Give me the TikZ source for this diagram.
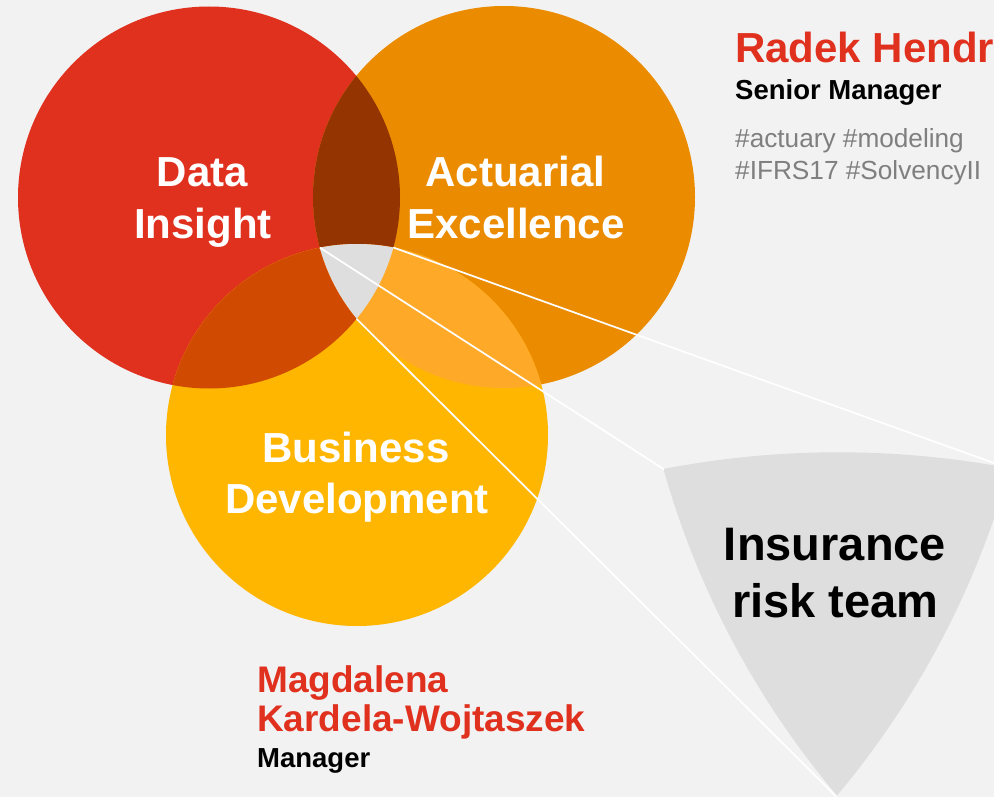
\documentclass[tikz,border=0pt]{standalone}
\usepackage{fontspec}
\setmainfont{Liberation Sans}
\definecolor{bgc}{HTML}{F2F2F2}
\definecolor{cred}{HTML}{E0301E}
\definecolor{corange}{HTML}{EB8C00}
\definecolor{cyellow}{HTML}{FFB600}
\definecolor{cRO}{HTML}{933401}
\definecolor{cRY}{HTML}{D04A02}
\definecolor{cOY}{HTML}{FFA929}
\definecolor{cgray}{HTML}{DEDEDE}
\definecolor{ctag}{HTML}{7F7F7F}
\def\circR{(209,197.5) circle[radius=191]}
\def\circO{(504,197) circle[radius=191]}
\def\circY{(357,435) circle[radius=191]}
\tikzset{
  lbl/.style={text=white, font=\fontsize{42}{50}\selectfont\bfseries, anchor=base, inner sep=0pt},
  pname/.style={text=cred, font=\fontsize{#1}{#1}\selectfont\bfseries, anchor=base west, inner sep=0pt},
  prole/.style={text=black, font=\fontsize{27.5}{30}\selectfont\bfseries, anchor=base west, inner sep=0pt},
  ptag/.style={text=ctag, font=\fontsize{26.2}{30}\selectfont, anchor=base west, inner sep=0pt},
  teamlbl/.style={text=black, font=\fontsize{47}{56}\selectfont\bfseries, anchor=base, inner sep=0pt},
  ray/.style={draw=white, line width=1.7pt}
}
\begin{document}
\begin{tikzpicture}[x=1pt,y=-1pt]
\useasboundingbox (0,0) rectangle (994,797);
\fill[bgc] (0,0) rectangle (994,797);
\clip (0,0) rectangle (994,797);
% circles
\fill[cred] \circR;
\fill[corange] \circO;
\fill[cyellow] \circY;
\begin{scope}\clip \circR; \fill[cRO] \circO; \end{scope}
\begin{scope}\clip \circR; \fill[cRY] \circY; \end{scope}
\begin{scope}\clip \circO; \fill[cOY] \circY; \end{scope}
\begin{scope}\clip \circR; \clip \circO; \fill[cgray] \circY; \end{scope}
\coordinate (gtl) at (319.9,247.7);
\coordinate (gtr) at (393.3,247.5);
\coordinate (gb) at (356.5,318.8);
% enlarged shield
\begin{scope}[shift={(-839.5,-670.1)}, xscale=4.7, yscale=4.6]
  \begin{scope}\clip \circR; \clip \circO; \fill[cgray] \circY; \end{scope}
  \coordinate (stl) at (319.9,247.7);
  \coordinate (str) at (393.3,247.5);
  \coordinate (sb) at (356.5,318.8);
\end{scope}
% rays
\draw[ray] (gtr) -- (str);
\draw[ray] (gtl) -- (stl);
\draw[ray] (gb) -- (sb);
% circle labels
\node[lbl] (data) at (202.5,187) {Data};
\node[lbl] (insight) at (203,238) {Insight};
\node[lbl] (actuarial) at (515.5,187) {Actuarial};
\node[lbl] (excellence) at (516,238) {Excellence};
\node[lbl] (business) at (356,462) {Business};
\node[lbl] (development) at (357,513) {Development};
% team
\node[teamlbl] (insurance) at (835,560) {Insurance};
\node[teamlbl] (riskteam) at (835.5,617) {risk team};
% people
\node[pname=42] (radek) at (735,63) {Radek Hendr};
\node[prole] (senior) at (735,100) {Senior Manager};
\node[ptag] (tag1) at (735,148) {\#actuary \#modeling};
\node[ptag] (tag2) at (735,180) {\#IFRS17 \#SolvencyII};
\node[pname=37] (magda1) at (257,692) {Magdalena};
\node[pname=37] (magda2) at (257,731) {Kardela-Wojtaszek};
\node[prole] (manager) at (257,767) {Manager};
\end{tikzpicture}
\end{document}
